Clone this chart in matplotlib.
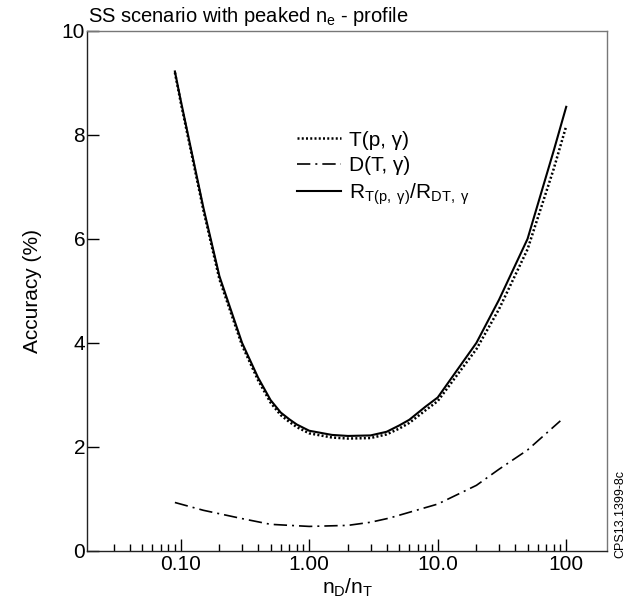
import matplotlib
matplotlib.use("Agg")
import matplotlib.pyplot as plt
from matplotlib.ticker import FixedLocator, NullFormatter

plt.rcParams["font.family"] = ["Liberation Sans", "DejaVu Sans"]
plt.rcParams["mathtext.fontset"] = "custom"
plt.rcParams["mathtext.rm"] = "Liberation Sans"
plt.rcParams["mathtext.it"] = "Liberation Sans"

# n_D/n_T grid of the two upper curves
ratio = [0.09, 0.1, 0.15, 0.2, 0.3, 0.4, 0.5, 0.6, 0.7, 0.8, 1.0, 1.5, 2.0,
         3.0, 4.0, 5.0, 6.0, 8.0, 10.0, 20.0, 30.0, 50.0, 80.0, 100.0]
# T(p, gamma) accuracy (%)
acc_t = [9.20, 8.62, 6.55, 5.22, 3.95, 3.28, 2.85, 2.61, 2.48, 2.38, 2.26,
         2.18, 2.16, 2.17, 2.24, 2.35, 2.46, 2.70, 2.88, 3.88, 4.65, 5.80,
         7.35, 8.17]
# ratio R_T(p,g)/R_DT,g accuracy (%)
acc_r = [9.22, 8.66, 6.60, 5.28, 4.00, 3.33, 2.90, 2.66, 2.53, 2.43, 2.31,
         2.23, 2.21, 2.22, 2.29, 2.41, 2.52, 2.77, 2.95, 4.00, 4.83, 6.00,
         7.70, 8.54]
# D(T, gamma)
ratio_d = [0.09, 0.15, 0.3, 0.5, 1.0, 2.0, 3.0, 4.2, 10.0, 20.0, 30.0, 50.0, 90.0]
acc_d = [0.93, 0.78, 0.62, 0.51, 0.47, 0.49, 0.55, 0.63, 0.90, 1.26, 1.57,
         1.94, 2.50]

major_x = [0.1, 1.0, 10.0, 100.0]
major_lbl = ["0.10", "1.00", "10.0", "100"]
minor_x = [m * 10.0 ** e for e in range(-2, 2) for m in range(2, 10)
           if m * 10.0 ** e >= 0.029]

fig = plt.figure(figsize=(6.32, 6.06), dpi=100)
ax = fig.add_axes([0.138, 0.091, 0.823, 0.858])

ax.plot(ratio, acc_t, color="black", lw=1.8, linestyle=(0, (0.8, 0.9)),
        label=r"T(p, γ)")
ax.plot(ratio_d, acc_d, color="black", lw=1.2, dashes=(8, 3, 1.2, 3),
        label=r"D(T, γ)")
ax.plot(ratio, acc_r, color="black", lw=1.5,
        label=r"R$_{\mathrm{T(p,\ γ)}}$/R$_{\mathrm{DT,\ γ}}$")

ax.set_xscale("log")
ax.set_xlim(0.0187, 209)
ax.set_ylim(0, 10)
ax.xaxis.set_major_locator(FixedLocator(major_x))
ax.set_xticklabels(major_lbl)
ax.xaxis.set_minor_locator(FixedLocator(minor_x))
ax.xaxis.set_minor_formatter(NullFormatter())
ax.set_yticks([0, 2, 4, 6, 8, 10])

ax.tick_params(axis="x", which="major", direction="in", length=8.5, width=1,
               labelsize=15, pad=3, top=False)
ax.tick_params(axis="x", which="minor", direction="in", length=5, width=1,
               top=False)
ax.tick_params(axis="y", which="major", direction="in", length=8.5, width=1,
               labelsize=15, pad=1.5, right=False)

for side in ["left", "bottom"]:
    ax.spines[side].set_color("#222222")
    ax.spines[side].set_linewidth(1.0)
for side in ["top", "right"]:
    ax.spines[side].set_color("#777777")
    ax.spines[side].set_linewidth(1.0)

ax.set_xlabel(r"n$_{\mathrm{D}}$/n$_{\mathrm{T}}$", fontsize=15, labelpad=2)
ax.set_ylabel("Accuracy (%)", fontsize=15, labelpad=14)

fig.text(0.140, 0.964, r"SS scenario with peaked n$_{\mathrm{e}}$ - profile",
         fontsize=14.5, ha="left", va="baseline")

ax.legend(loc="upper left", bbox_to_anchor=(0.403, 0.808), frameon=False,
          fontsize=15, handlelength=2.1, handletextpad=0.4, labelspacing=0.3,
          borderpad=0, borderaxespad=0)

fig.text(0.981, 0.079, "CPS13.1399-8c", rotation=90, fontsize=9,
         ha="center", va="bottom")

fig.savefig("out.png", dpi=100)
